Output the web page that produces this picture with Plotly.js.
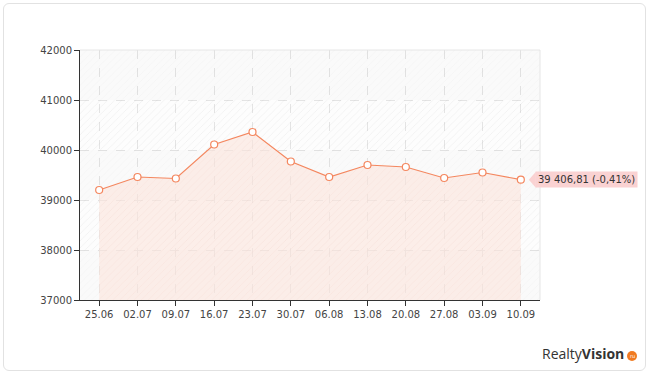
<!DOCTYPE html>
<html><head><meta charset="utf-8">
<script src="https://cdn.plot.ly/plotly-3.0.1.min.js"></script>
<style>
html,body{margin:0;padding:0;background:#fff;}
#frame{position:absolute;left:3px;top:3px;width:643px;height:368px;border:1px solid #e2e2e2;border-radius:6px;box-sizing:border-box;}
#chart{position:absolute;left:0;top:0;width:650px;height:375px;}
</style></head>
<body>
<div id="frame"></div>
<div id="chart"></div>
<script>
const categories = ['25.06','02.07','09.07','16.07','23.07','30.07','06.08','13.08','20.08','27.08','03.09','10.09'];
const values = [39200, 39460, 39430, 40110, 40360, 39770, 39460, 39700, 39660, 39440, 39550, 39406.81];
const lastLabel = '39 406,81 (-0,41%)';
const yTicks = [37000, 38000, 39000, 40000, 41000, 42000];

const idx = categories.map((c,i)=>i);
const lineColor = '#f4875f';

const traces = [];
for (let k = 0; k < yTicks.length - 1; k++) {
  const y0 = yTicks[k], y1 = yTicks[k+1];
  const hatched = (k % 2 === 1);
  traces.push({
    x: [-0.5, 11.5, 11.5, -0.5, -0.5], y: [y0, y0, y1, y1, y0],
    type: 'scatter', mode: 'lines', fill: 'toself', line: {width: 0},
    fillcolor: hatched ? 'rgba(0,0,0,0)' : 'rgba(0,0,0,0.02)',
    fillpattern: hatched ? {shape: '/', fgcolor: 'rgba(0,0,0,0.06)', bgcolor: 'rgba(0,0,0,0.008)', size: 5, solidity: 0.12} : {shape: '/', fgcolor: 'rgba(0,0,0,0.022)', bgcolor: 'rgba(0,0,0,0.018)', size: 5, solidity: 0.12},
    hoverinfo: 'skip', showlegend: false
  });
}
traces.push({
  x: idx, y: values, type: 'scatter', mode: 'lines', fill: 'tozeroy',
  line: {width: 0}, fillcolor: 'rgba(250,215,200,0.3)',
  fillpattern: {shape: '/', fgcolor: 'rgba(240,170,150,0.12)', bgcolor: 'rgba(251,228,220,0.6)', size: 5, solidity: 0.12},
  hoverinfo: 'skip', showlegend: false
});
traces.push({
  x: idx, y: values, type: 'scatter', mode: 'lines+markers',
  line: {color: lineColor, width: 1.2},
  marker: {size: 7, color: '#ffffff', line: {color: lineColor, width: 1.2}},
  showlegend: false
});

const lastI = idx[idx.length-1];
const layout = {
  width: 650, height: 375,
  margin: {l: 80, r: 110, t: 50, b: 75},
  paper_bgcolor: 'rgba(0,0,0,0)', plot_bgcolor: 'rgba(0,0,0,0)',
  font: {family: 'DejaVu Sans, Verdana, sans-serif', size: 10, color: '#444'},
  xaxis: {
    range: [-0.5, 11.5], tickmode: 'array', tickvals: idx, ticktext: categories,
    showgrid: true, gridcolor: '#e6e6e6', griddash: 'dash', gridwidth: 1,
    showline: true, linecolor: '#333', linewidth: 1,
    ticks: 'outside', ticklen: 5, tickcolor: '#333', zeroline: false,
    tickfont: {size: 10, color: '#444'}, fixedrange: true
  },
  yaxis: {
    range: [37000, 42000], tickmode: 'array', tickvals: yTicks, ticktext: yTicks.map(String),
    showgrid: true, gridcolor: '#e6e6e6', griddash: 'dash', gridwidth: 1,
    showline: true, linecolor: '#333', linewidth: 1,
    ticks: 'outside', ticklen: 5, tickcolor: '#333', zeroline: false,
    tickfont: {size: 10, color: '#444'}, fixedrange: true
  },
  shapes: [
    {type:'line', xref:'paper', yref:'paper', x0:0, x1:1, y0:1, y1:1, line:{color:'#e6e6e6', width:1}},
    {type:'line', xref:'paper', yref:'paper', x0:1, x1:1, y0:0, y1:1, line:{color:'#e6e6e6', width:1}},
    {type:'path', xref:'x', yref:'y', xsizemode:'pixel', ysizemode:'pixel', xanchor: lastI, yanchor: values[values.length-1],
     path: 'M 8 0 L 15 -8 L 15 8 Z', fillcolor:'#fad2d2', line:{width:0}},
    {type:'circle', xref:'paper', yref:'paper', xsizemode:'pixel', ysizemode:'pixel', xanchor: (632-80)/460, yanchor: (300-356)/250,
     x0:-5, x1:5, y0:-5, y1:5, fillcolor:'#f07b22', line:{width:0}}
  ],
  annotations: [
    {x: lastI, y: values[values.length-1], xref:'x', yref:'y', text: lastLabel, showarrow:false,
     xanchor:'left', yanchor:'middle', xshift: 14, bgcolor:'#fad2d2', borderpad: 2,
     font:{family:'DejaVu Sans, Verdana, sans-serif', size:10, color:'#333'}},
    {x: (626-80)/460, y: (300-353)/250, xref:'paper', yref:'paper', xanchor:'right', yanchor:'middle', showarrow:false,
     text: 'Realty<b>Vision</b>', font:{family:'Open Sans, DejaVu Sans, sans-serif', size:14, color:'#333'}},
    {x: (632-80)/460, y: (300-356)/250, xref:'paper', yref:'paper', xanchor:'center', yanchor:'middle', showarrow:false,
     text: 'ru', font:{family:'DejaVu Sans, sans-serif', size:5, color:'#fff'}}
  ]
};

Plotly.newPlot('chart', traces, layout, {displayModeBar: false, staticPlot: true});
</script>
</body></html>
